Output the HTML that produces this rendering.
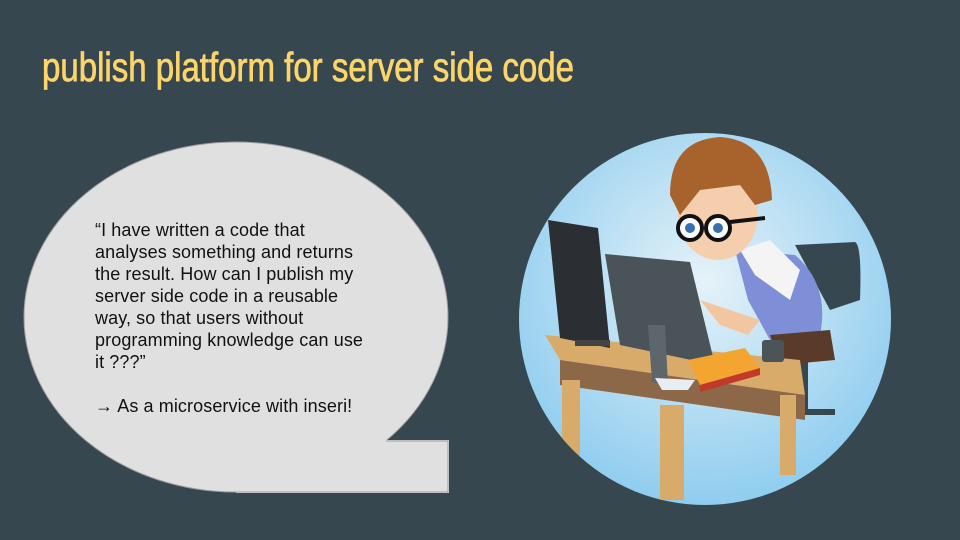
<!DOCTYPE html>
<html><head><meta charset="utf-8"><style>
html,body{margin:0;padding:0}
body{width:960px;height:540px;background:#37474f;position:relative;overflow:hidden;font-family:"Liberation Sans",Arial,sans-serif}
.title{position:absolute;left:42px;top:44px;color:#fcd56a;font-size:41px;white-space:nowrap;transform:scaleX(0.805);transform-origin:left top;-webkit-text-stroke:0.8px #fcd56a}
.txt{position:absolute;left:95px;top:219px;white-space:nowrap;font-size:18px;line-height:22px;color:#111;letter-spacing:0.1px}
</style></head><body>
<svg width="960" height="540" style="position:absolute;left:0;top:0">
<ellipse cx="236" cy="317" rx="212" ry="175" fill="#e0e0e0" stroke="#9e9e9e" stroke-width="1"/>
<path d="M386 441 L448 441 L448 492 L236 492 A212 175 0 0 0 386 441 Z" fill="#e0e0e0" stroke="#e0e0e0" stroke-width="2"/>
<path d="M386 441 L448 441 L448 492 L236 492" fill="none" stroke="#9e9e9e" stroke-width="1"/>
<defs><radialGradient id="g" cx="0.5" cy="0.4" r="0.6"><stop offset="0" stop-color="#e6f2f8"/><stop offset="1" stop-color="#8fcdef"/></radialGradient>
<clipPath id="c"><circle cx="705" cy="319" r="186"/></clipPath></defs>
<circle cx="705" cy="319" r="186" fill="url(#g)"/>
<g clip-path="url(#c)">
<path d="M795 245 L855 242 Q862 245 860 300 L830 310 Z" fill="#37474f"/>
<rect x="800" y="360" width="8" height="50" fill="#37474f"/>
<path d="M770 412 L835 412" stroke="#37474f" stroke-width="6"/>
<path d="M735 250 L795 255 Q830 285 820 335 L770 340 L748 300 Z" fill="#7e8fd8"/>
<path d="M740 250 L770 240 L800 270 L790 300 L755 275 Z" fill="#f4f4f4"/>
<path d="M770 335 L830 330 L835 360 L780 365 Z" fill="#5a3a28"/>
<path d="M700 300 L760 320 L748 335 L720 325 Z" fill="#f2c6a0"/>
<ellipse cx="718" cy="215" rx="40" ry="45" fill="#f5cfad"/>
<path d="M670 195 Q670 140 720 137 Q770 140 772 200 L755 205 L740 185 L700 190 L680 215 Z" fill="#a8622c"/>
<circle cx="690" cy="228" r="12" fill="#fff" stroke="#111" stroke-width="4"/>
<circle cx="718" cy="228" r="12" fill="#fff" stroke="#111" stroke-width="4"/>
<circle cx="690" cy="228" r="5" fill="#3a70b0"/><circle cx="718" cy="228" r="5" fill="#3a70b0"/>
<path d="M730 222 L765 218" stroke="#111" stroke-width="4"/>
<path d="M545 335 L800 360 L805 395 L560 360 Z" fill="#d9ab6b"/>
<path d="M560 360 L805 395 L805 420 L560 385 Z" fill="#8c6848"/>
<rect x="562" y="380" width="18" height="90" fill="#d9ab6b"/>
<rect x="660" y="405" width="24" height="95" fill="#d9ab6b"/>
<rect x="780" y="395" width="16" height="80" fill="#d9ab6b"/>
<path d="M548 220 L598 228 L610 348 L560 338 Z" fill="#2b2f33"/>
<rect x="575" y="340" width="35" height="6" fill="#444"/>
<path d="M605 254 L690 262 L715 365 L620 345 Z" fill="#4a5357"/>
<path d="M648 325 L665 325 L668 385 L652 382 Z" fill="#5d666b"/>
<path d="M655 378 L695 380 L688 390 L662 390 Z" fill="#e6eef3"/>
<path d="M688 360 L745 348 L760 368 L700 385 Z" fill="#f3a431"/>
<path d="M700 385 L760 368 L760 375 L700 392 Z" fill="#c0392b"/>
<rect x="762" y="340" width="22" height="22" rx="3" fill="#4b5458"/>
</g>
</svg>
<div class="title">publish platform for server side code</div>
<div class="txt">“I have written a code that<br>analyses something and returns<br>the result. How can I publish my<br>server side code in a reusable<br>way, so that users without<br>programming knowledge can use<br>it ???”<br><br>→ As a microservice with inseri!</div>
</body></html>
